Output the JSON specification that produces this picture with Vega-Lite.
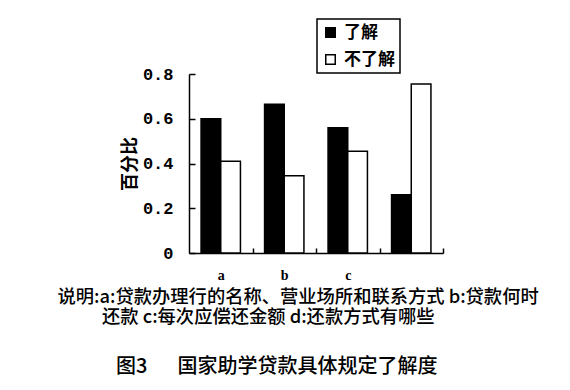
{
  "$schema": "https://vega.github.io/schema/vega-lite/v6.json",
  "autosize": "none",
  "width": 254,
  "height": 179,
  "padding": {"left": 189, "top": 74, "right": 127, "bottom": 137},
  "background": "white",
  "title": {
    "text": "还款 c:每次应偿还金额 d:还款方式有哪些",
    "subtitle": "\u200b\u2002\u2009图3\u3000\u2002国家助学贷款具体规定了解度",
    "orient": "bottom",
    "anchor": "start",
    "frame": "group",
    "dx": -87,
    "offset": 4,
    "font": "Noto Sans CJK SC",
    "fontSize": 18.3,
    "fontWeight": 500,
    "color": "black",
    "subtitleFont": "Noto Sans CJK SC",
    "subtitleFontSize": 20,
    "subtitleFontWeight": 500,
    "subtitleColor": "black",
    "subtitlePadding": 29
  },
  "data": {
    "values": [
      {"item": "a", "group": "了解", "value": 0.60},
      {"item": "a", "group": "不了解", "value": 0.41},
      {"item": "b", "group": "了解", "value": 0.665},
      {"item": "b", "group": "不了解", "value": 0.345},
      {"item": "c", "group": "了解", "value": 0.56},
      {"item": "c", "group": "不了解", "value": 0.455},
      {"item": "d", "group": "了解", "value": 0.26},
      {"item": "d", "group": "不了解", "value": 0.755}
    ]
  },
  "mark": {"type": "bar", "stroke": "black", "strokeWidth": 1.5},
  "encoding": {
    "x": {
      "field": "item",
      "type": "nominal",
      "scale": {"paddingInner": 0.38, "paddingOuter": 0.19},
      "axis": {
        "orient": "bottom",
        "labelAngle": 0,
        "labelExpr": "datum.value == 'd' ? '' : datum.value",
        "labelFont": "Liberation Serif",
        "labelFontWeight": "bold",
        "labelFontSize": 14,
        "labelColor": "black",
        "labelPadding": 20,
        "tickOffset": 31.75,
        "labelOffset": -31.75,
        "tickSize": -5,
        "tickColor": "black",
        "tickWidth": 1.5,
        "domainColor": "black",
        "domainWidth": 1.5,
        "title": "说明:a:贷款办理行的名称、营业场所和联系方式 b:贷款何时",
        "titleFont": "Noto Sans CJK SC",
        "titleFontSize": 18.3,
        "titleFontWeight": 500,
        "titleColor": "black",
        "titleAlign": "left",
        "titleAnchor": "start",
        "titleX": -132,
        "titleY": 49,
        "titleBaseline": "alphabetic"
      }
    },
    "xOffset": {"field": "group", "type": "nominal", "scale": {"domain": ["了解", "不了解"]}},
    "y": {
      "field": "value",
      "type": "quantitative",
      "scale": {"domain": [0, 0.8], "nice": false},
      "axis": {
        "values": [0, 0.2, 0.4, 0.6, 0.8],
        "labelExpr": "datum.value == 0 ? '0' : format(datum.value, '.1f')",
        "labelFont": "Liberation Mono",
        "labelFontWeight": "bold",
        "labelFontSize": 17,
        "labelColor": "black",
        "labelPadding": 22,
        "tickSize": -6,
        "tickColor": "black",
        "tickWidth": 1.5,
        "domainColor": "black",
        "domainWidth": 1.5,
        "grid": false,
        "title": "百分比",
        "titleFont": "Noto Sans CJK SC",
        "titleFontSize": 18,
        "titleFontWeight": "bold",
        "titleColor": "black",
        "titleX": -59,
        "titleY": 89.5,
        "titleAlign": "center",
        "titleBaseline": "middle",
        "titleAngle": -90
      }
    },
    "fill": {
      "field": "group",
      "type": "nominal",
      "scale": {"domain": ["了解", "不了解"], "range": ["black", "white"]},
      "legend": {
        "title": null,
        "orient": "none",
        "legendX": 128,
        "legendY": -55,
        "strokeColor": "black",
        "padding": 5,
        "rowPadding": 9,
        "symbolType": "square",
        "symbolSize": 90,
        "symbolStrokeColor": "black",
        "symbolStrokeWidth": 1.5,
        "labelOffset": 5,
        "labelFont": "Noto Sans CJK SC",
        "labelFontSize": 17,
        "labelFontWeight": "bold",
        "labelColor": "black"
      }
    }
  },
  "config": {"view": {"stroke": null}, "legend": {"strokeWidth": 1.5}}
}
